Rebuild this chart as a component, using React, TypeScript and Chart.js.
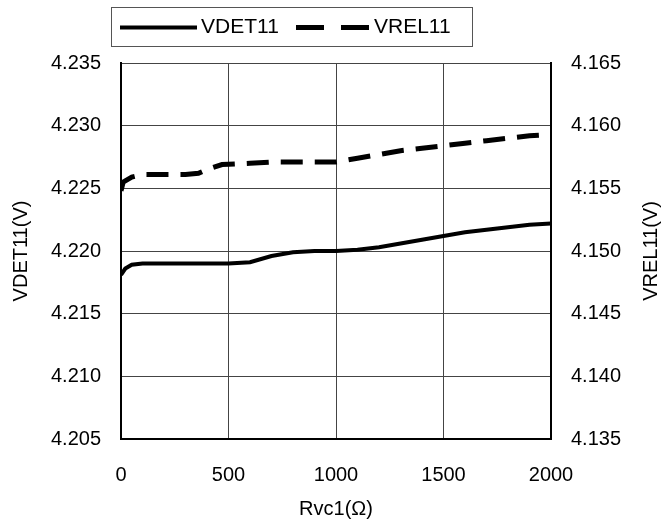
import React, { useEffect, useRef } from "react";
import { Chart, registerables } from "chart.js";

Chart.register(...registerables);

const detR = [0, 20, 50, 100, 200, 300, 400, 500, 600, 700, 800, 900, 1000, 1100, 1200, 1300, 1400, 1500, 1600, 1700, 1800, 1900, 2000];
const detV = [4.2181, 4.2186, 4.2189, 4.219, 4.219, 4.219, 4.219, 4.219, 4.2191, 4.2196, 4.2199, 4.22, 4.22, 4.2201, 4.2203, 4.2206, 4.2209, 4.2212, 4.2215, 4.2217, 4.2219, 4.2221, 4.2222];

const relR = [0, 10, 50, 100, 200, 300, 360, 400, 470, 600, 700, 800, 900, 1000, 1100, 1200, 1300, 1400, 1500, 1600, 1700, 1800, 1900, 2000];
const relV = [4.1548, 4.1555, 4.1559, 4.1561, 4.1561, 4.1561, 4.1562, 4.1565, 4.1569, 4.157, 4.1571, 4.1571, 4.1571, 4.1571, 4.1574, 4.1577, 4.158, 4.1582, 4.1584, 4.1586, 4.1588, 4.159, 4.1592, 4.1593];

const xTicks = [0, 500, 1000, 1500, 2000];
const leftTicks = [4.205, 4.21, 4.215, 4.22, 4.225, 4.23, 4.235];
const rightTicks = [4.135, 4.14, 4.145, 4.15, 4.155, 4.16, 4.165];
const seriesNames = ["VDET11", "VREL11"];
const xTitle = "Rvc1(Ω)";
const leftTitle = "VDET11(V)";
const rightTitle = "VREL11(V)";

const FONT = "'Liberation Sans', Arial, sans-serif";

const legendPlugin = {
  id: "boxLegend",
  afterDraw(chart: any) {
    const ctx = chart.ctx;
    ctx.save();
    const bx = 111, by = 7, bw = 361, bh = 39;
    ctx.strokeStyle = "#555";
    ctx.lineWidth = 1;
    ctx.strokeRect(bx + 0.5, by + 0.5, bw, bh);
    const cy = by + bh / 2 + 1;
    ctx.strokeStyle = "#000";
    ctx.lineWidth = 4;
    ctx.beginPath();
    ctx.moveTo(120, cy);
    ctx.lineTo(197, cy);
    ctx.stroke();
    ctx.font = `21px ${FONT}`;
    ctx.fillStyle = "#000";
    ctx.textBaseline = "middle";
    ctx.fillText(seriesNames[0], 201, cy);
    ctx.lineWidth = 5;
    ctx.setLineDash([28, 17]);
    ctx.beginPath();
    ctx.moveTo(296, cy);
    ctx.lineTo(369, cy);
    ctx.stroke();
    ctx.setLineDash([]);
    ctx.fillText(seriesNames[1], 374, cy);

    // right axis title, reading bottom-to-top
    const area = chart.chartArea;
    ctx.translate(651, (area.top + area.bottom) / 2);
    ctx.rotate(-Math.PI / 2);
    ctx.textAlign = "center";
    ctx.font = `20px ${FONT}`;
    ctx.fillText(rightTitle, 0, 0);
    ctx.restore();
  },
};

export default function App() {
  const ref = useRef<HTMLCanvasElement>(null);
  useEffect(() => {
    document.body.style.margin = "0";
    const canvas = ref.current!;
    const chart = new Chart(canvas, {
      type: "line",
      data: {
        datasets: [
          {
            label: seriesNames[0],
            data: detR.map((r, i) => ({ x: r, y: detV[i] })),
            borderColor: "#000",
            borderWidth: 4,
            pointRadius: 0,
            yAxisID: "y",
            tension: 0,
          },
          {
            label: seriesNames[1],
            data: relR.map((r, i) => ({ x: r, y: relV[i] })),
            borderColor: "#000",
            borderWidth: 5,
            borderDash: [22, 12],
            pointRadius: 0,
            yAxisID: "y1",
            tension: 0,
          },
        ],
      },
      options: {
        animation: false,
        responsive: false,
        layout: { padding: { top: 63, left: 0, right: 0, bottom: 0 } },
        plugins: { legend: { display: false }, tooltip: { enabled: false } },
        scales: {
          x: {
            type: "linear",
            min: 0,
            max: 2000,
            afterBuildTicks: (s: any) => { s.ticks = xTicks.map((v) => ({ value: v })); },
            afterFit: (s: any) => { s.height = 82; },
            grid: { color: "#444", lineWidth: 1, drawTicks: false },
            border: { color: "#000", width: 2 },
            ticks: { color: "#000", font: { family: FONT, size: 20 }, padding: 24, maxRotation: 0, callback: (v: any) => String(v) },
            title: { display: true, text: xTitle, color: "#000", font: { family: FONT, size: 20 }, padding: { top: 6, bottom: 0 } },
          },
          y: {
            position: "left",
            min: 4.205,
            max: 4.235,
            afterBuildTicks: (s: any) => { s.ticks = leftTicks.map((v) => ({ value: v })); },
            afterFit: (s: any) => { s.width = 121; },
            grid: { color: "#444", lineWidth: 1, drawTicks: false },
            border: { color: "#000", width: 2 },
            ticks: { color: "#000", font: { family: FONT, size: 20 }, padding: 20, callback: (v: any) => Number(v).toFixed(3) },
            title: { display: true, text: leftTitle, color: "#000", font: { family: FONT, size: 20 }, padding: { top: 9, bottom: 0 } },
          },
          y1: {
            position: "right",
            min: 4.135,
            max: 4.165,
            afterBuildTicks: (s: any) => { s.ticks = rightTicks.map((v) => ({ value: v })); },
            afterFit: (s: any) => { s.width = 113; },
            grid: { display: false, drawTicks: false },
            border: { color: "#000", width: 2 },
            ticks: { color: "#000", font: { family: FONT, size: 20 }, padding: 20, callback: (v: any) => Number(v).toFixed(3) },
            title: { display: false },
          },
        },
      },
      plugins: [legendPlugin],
    });
    return () => chart.destroy();
  }, []);
  return <canvas ref={ref} width={664} height={521} style={{ display: "block" }} />;
}
